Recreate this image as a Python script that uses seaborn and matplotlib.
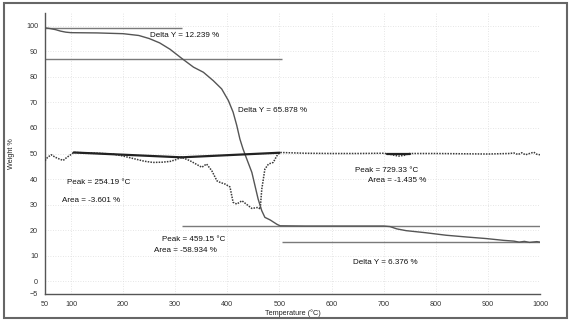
import matplotlib
matplotlib.use("Agg")
import matplotlib.pyplot as plt
import seaborn as sns
import pandas as pd
from matplotlib.patches import Rectangle

# ---- data ----
tga_temp = [50, 60, 70, 80, 90, 100, 150, 200, 230, 250, 270, 290, 312, 335, 354, 373,
            389, 402, 411, 418, 424, 430, 436, 447, 453, 459, 466, 472, 482, 495, 501,
            550, 600, 650, 700, 712, 725, 743, 780, 820, 860, 897, 930, 950, 960, 970,
            980, 994, 1000]
tga_weight = [99.2, 98.9, 98.5, 97.9, 97.5, 97.3, 97.2, 96.9, 96.2, 95.0, 93.3, 90.8, 87.3,
              83.8, 81.8, 78.5, 75.3, 70.7, 66.2, 61.0, 55.7, 51.8, 48.5, 42.6, 37.4, 32.2,
              27.6, 25.0, 24.0, 22.3, 21.7, 21.6, 21.6, 21.6, 21.6, 21.4, 20.5, 19.8, 19.0,
              18.0, 17.3, 16.7, 16.0, 15.7, 15.3, 15.6, 15.2, 15.5, 15.3]

dta_temp = [50, 55, 62, 70, 78, 85, 92, 100, 105, 120, 150, 180, 200, 220, 240, 257, 275,
            290, 300, 312, 328, 351, 360, 370, 380, 386, 396, 405, 411, 418, 428, 440,
            447, 459, 463, 466, 472, 479, 488, 495, 501, 550, 600, 650, 700, 710, 720,
            729, 740, 750, 800, 850, 900, 940, 950, 958, 965, 972, 980, 988, 994, 1000]
dta_signal = [47.2, 48.5, 49.5, 48.5, 47.8, 47.3, 48.5, 49.6, 50.4, 50.3, 50.1, 49.8, 49.0,
              48.0, 47.0, 46.5, 46.6, 46.9, 47.5, 48.5, 47.2, 44.6, 45.9, 43.3, 39.3, 38.7,
              38.0, 36.9, 30.9, 30.2, 31.5, 29.6, 28.5, 28.9, 28.2, 36.0, 43.9, 45.9, 46.5,
              49.1, 50.4, 50.1, 50.0, 50.0, 50.1, 49.8, 49.3, 49.0, 49.3, 50.0, 50.0, 49.9,
              49.8, 50.0, 50.2, 49.6, 50.3, 49.5, 50.0, 50.5, 49.7, 49.5]

# DTA peak baselines (x pairs, y pairs)
base_x = [[105, 312], [312, 500], [706, 750]]
base_y = [[50.4, 48.5], [48.5, 50.3], [50.0, 50.0]]

# Delta-Y construction lines: level, x start, x end
delta_levels = [99.2, 86.96, 21.7, 15.32]
delta_x0 = [50, 50, 312, 504]
delta_x1 = [312, 504, 1000, 1000]

annotations = [
    ("Delta Y = 12.239 %", 251, 96.3),
    ("Delta Y = 65.878 %", 420, 66.8),
    ("Peak = 254.19 °C", 92, 38.6),
    ("Area = -3.601 %", 83, 31.7),
    ("Peak = 459.15 °C", 274, 16.4),
    ("Area = -58.934 %", 259, 11.9),
    ("Peak = 729.33 °C", 645, 43.2),
    ("Area = -1.435 %", 670, 39.3),
    ("Delta Y = 6.376 %", 642, 7.4),
]

x_ticks = [50, 100, 200, 300, 400, 500, 600, 700, 800, 900, 1000]
y_ticks = [-5, 0, 10, 20, 30, 40, 50, 60, 70, 80, 90, 100]

# ---- plot ----
sns.set_theme(style="white")
plt.rcParams["font.family"] = ["Liberation Sans", "DejaVu Sans"]

fig = plt.figure(figsize=(5.72, 3.21), dpi=100)
ax = fig.add_axes([45 / 572, 1 - 294 / 321, 495 / 572, 281 / 321])

tga = pd.DataFrame({"T": tga_temp, "W": tga_weight})
dta = pd.DataFrame({"T": dta_temp, "S": dta_signal})

for lvl, a, b in zip(delta_levels, delta_x0, delta_x1):
    ax.hlines(lvl, a, b, color="#7a7a7a", lw=1.0, zorder=2)

sns.lineplot(data=dta, x="T", y="S", ax=ax, sort=False, color="#3a3a3a",
             lw=1.1, linestyle=(0, (1, 0.8)), zorder=3)
sns.lineplot(data=tga, x="T", y="W", ax=ax, sort=False, color="#555555",
             lw=1.0, zorder=4)
for bx, by in zip(base_x, base_y):
    ax.plot(bx, by, color="#222222", lw=1.6, zorder=5)

for txt, x, y in annotations:
    ax.text(x, y, txt, fontsize=5.8, color="#111111", va="center", ha="left")

ax.set_xlim(50, 1000)
ax.set_ylim(-5, 105)
ax.set_xticks(x_ticks)
ax.set_yticks(y_ticks)
ax.tick_params(labelsize=5.2, colors="#333333", length=2, pad=3)
ax.set_xlabel("Temperature (°C)", fontsize=5.2, labelpad=1, color="#222222")
ax.set_ylabel("Weight %", fontsize=5.2, labelpad=8, color="#222222")

ax.grid(True, color="#dddddd", lw=0.6, linestyle=(0, (1, 2)))
for s in ["top", "right"]:
    ax.spines[s].set_visible(False)
for s in ["left", "bottom"]:
    ax.spines[s].set_color("#555555")
    ax.spines[s].set_linewidth(1.0)

fig.patches.append(Rectangle((4 / 572, 3 / 321), 563 / 572, 315 / 321,
                             transform=fig.transFigure, fill=False,
                             edgecolor="#666666", lw=1.5))

fig.savefig("out.png", dpi=100)
